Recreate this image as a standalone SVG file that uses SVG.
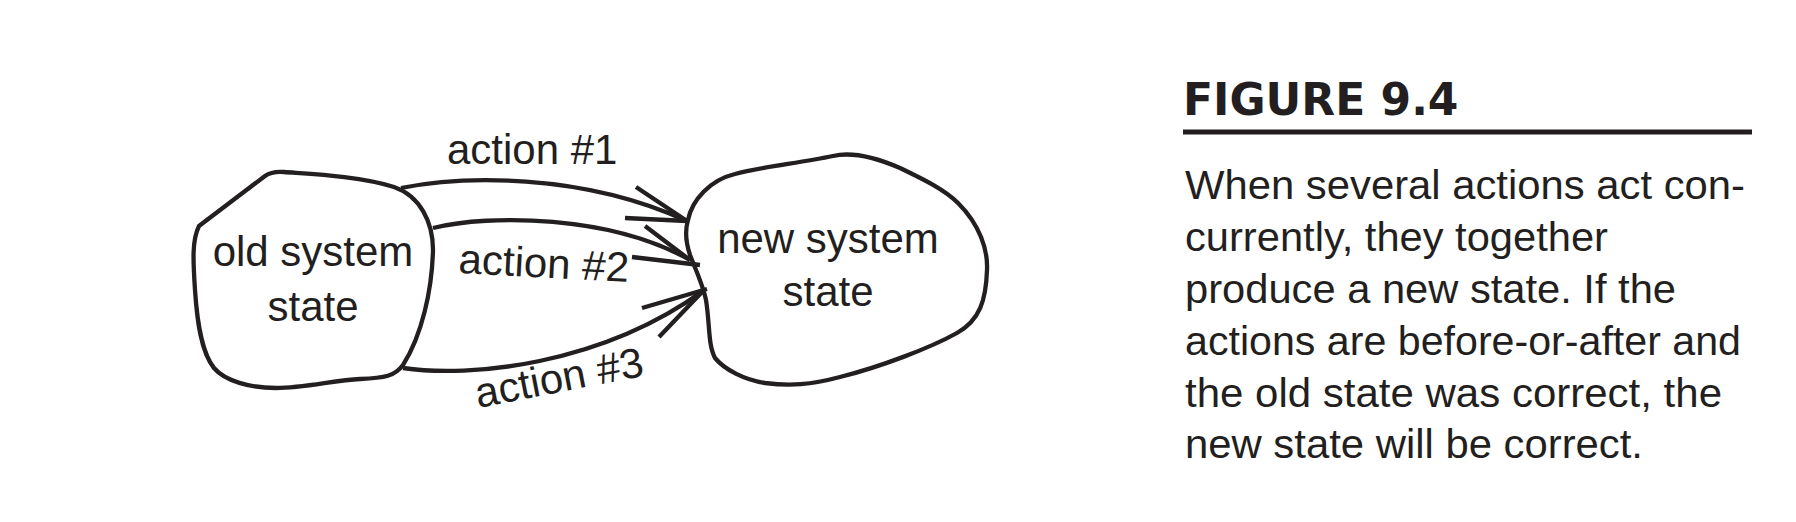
<svg xmlns="http://www.w3.org/2000/svg" width="1796" height="522" viewBox="0 0 1796 522">
<style>
.blob{fill:#fff;stroke:#231f20;stroke-width:4.3;stroke-linejoin:round}
.con{fill:none;stroke:#231f20;stroke-width:4.3;stroke-linecap:butt}
.lbl{font-family:"Liberation Sans",Arial,sans-serif;font-size:42px;fill:#231f20}
.cap{font-family:"Liberation Sans",Arial,sans-serif;font-size:41px;fill:#231f20}
.fig{font-family:"DejaVu Sans",Verdana,sans-serif;font-weight:bold;font-size:44px;fill:#231f20}
</style>
<rect width="1796" height="522" fill="#fff"/>
<g id="old-state">
<path class="blob" d="M199,226 L265,176 Q272,171 284,172 C310,174 360,176 394,187 C420,196 433,222 433,250 C432,290 422,335 403,365 C395,376 385,378 360,379 C335,380 305,388 276,388 C250,388 225,381 214,368 C201,352 197,320 195,290 C193,260 192,240 199,226 Z"/>
<text class="lbl" x="313" y="266" text-anchor="middle">old system</text>
<text class="lbl" x="313" y="321" text-anchor="middle">state</text>
</g>
<g id="new-state">
<path class="blob" d="M688,220 C692,200 710,180 735,174 C760,167 800,163 833,156 C850,152 870,155 900,168 C925,180 945,190 958,203 C980,225 988,250 987,270 C986,300 980,320 957,333 C930,348 880,367 840,377 C810,385 790,386 765,383 C745,380 725,370 715,358 C708,345 710,325 706,300 C703,285 695,268 690,255 C686,243 685,230 688,220 Z"/>
<text class="lbl" x="828" y="253" text-anchor="middle">new system</text>
<text class="lbl" x="828" y="306" text-anchor="middle">state</text>
</g>
<g id="connectors">
<path class="con" d="M401,188 C460,176 580,172 687,221"/>
<path class="con" d="M636,187 L687,221 M625,218 L687,221"/>
<path class="con" d="M433,228 C490,214 610,215 690,260"/>
<path class="con" d="M645,226 L690,260 M632,257 L700,265"/>
<path class="con" d="M403,368 C470,378 600,365 703,291"/>
<path class="con" d="M642,308 L707,289 M659,337 L703,291"/>
</g>
<g id="labels">
<text class="lbl" x="447" y="164">action #1</text>
<text class="lbl" x="458" y="273" transform="rotate(3 458 273)">action #2</text>
<text class="lbl" x="478" y="408" transform="rotate(-11 478 408)">action #3</text>
</g>
<g id="caption">
<text class="fig" x="1183" y="115">FIGURE 9.4</text>
<rect x="1183" y="129.5" width="569" height="5" fill="#231f20"/>
<text class="cap" x="1185" y="199" textLength="560" lengthAdjust="spacingAndGlyphs">When several actions act con-</text>
<text class="cap" x="1185" y="251" textLength="423" lengthAdjust="spacingAndGlyphs">currently, they together</text>
<text class="cap" x="1185" y="303" textLength="491" lengthAdjust="spacingAndGlyphs">produce a new state. If the</text>
<text class="cap" x="1185" y="355" textLength="556" lengthAdjust="spacingAndGlyphs">actions are before-or-after and</text>
<text class="cap" x="1185" y="407" textLength="537" lengthAdjust="spacingAndGlyphs">the old state was correct, the</text>
<text class="cap" x="1185" y="458" textLength="458" lengthAdjust="spacingAndGlyphs">new state will be correct.</text>
</g>
</svg>
